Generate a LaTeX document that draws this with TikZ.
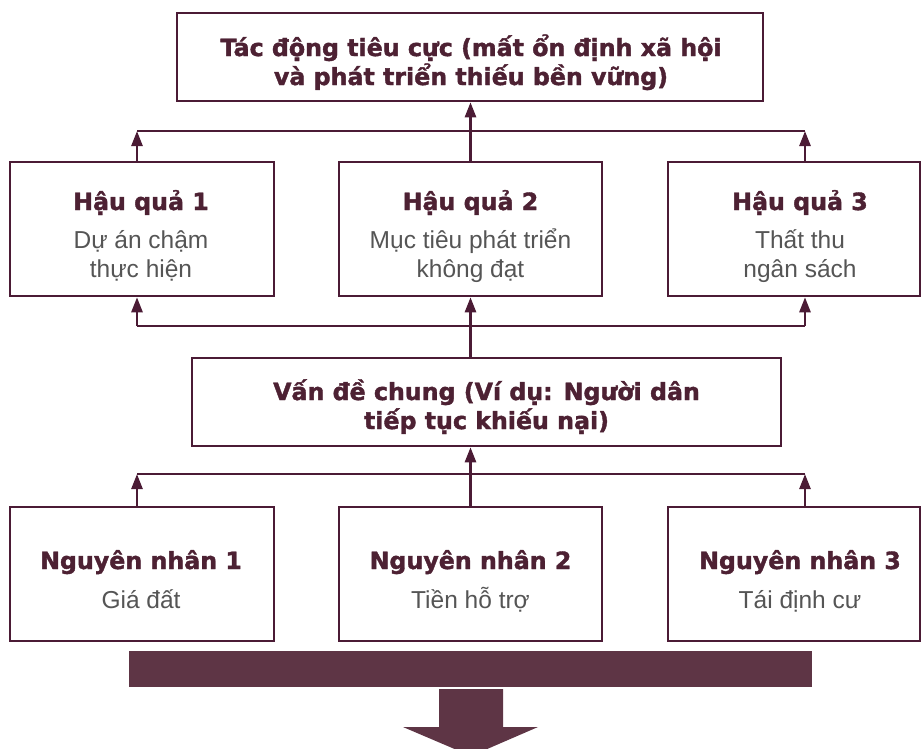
\documentclass[tikz,border=0pt]{standalone}
\usepackage{fontspec}
\setmainfont{Liberation Sans}
\newfontfamily\headfamily{DejaVu Sans}[BoldFeatures={FakeBold=1.6}]
\usetikzlibrary{arrows.meta}
\definecolor{wine}{HTML}{4B1B35}
\definecolor{winefill}{HTML}{5E3545}
\definecolor{headtext}{HTML}{4D2133}
\definecolor{bodytext}{HTML}{555555}
\begin{document}
\begin{tikzpicture}[x=1pt,y=-1pt,
  box/.style={draw=wine, line width=2.6pt, fill=white, inner sep=0pt, rectangle},
  headtxt/.style={font=\headfamily\bfseries\fontsize{23.7}{28}\selectfont, text=headtext, anchor=base, inner sep=0pt},
  bodytxt/.style={font=\fontsize{24.5}{28}\selectfont, text=bodytext, anchor=base, inner sep=0pt},
  conn/.style={draw=wine, line width=2.6pt},
  arr/.style={-{Triangle[width=11pt,length=15pt]}}]
\useasboundingbox (0,0) rectangle (921,748);

% top: overall impact
\node[box, minimum width=586pt, minimum height=88pt] (top) at (470,57) {};
\node[headtxt] (topa) at (471,56) {Tác động tiêu cực (mất ổn định xã hội};
\node[headtxt] (topb) at (471,85) {và phát triển thiếu bền vững)};

% consequences
\node[box, minimum width=264pt, minimum height=134pt] (h1) at (142,229) {};
\node[box, minimum width=263pt, minimum height=134pt] (h2) at (470.5,229) {};
\node[box, minimum width=252pt, minimum height=134pt] (h3) at (794,229) {};
\node[headtxt] (h1t) at (141,210) {Hậu quả 1};
\node[bodytxt] (h1a) at (141,248) {Dự án chậm};
\node[bodytxt] (h1b) at (141,277) {thực hiện};
\node[headtxt] (h2t) at (470.5,210) {Hậu quả 2};
\node[bodytxt] (h2a) at (470.5,248) {Mục tiêu phát triển};
\node[bodytxt] (h2b) at (470.5,277) {không đạt};
\node[headtxt] (h3t) at (800,210) {Hậu quả 3};
\node[bodytxt] (h3a) at (800,248) {Thất thu};
\node[bodytxt] (h3b) at (800,277) {ngân sách};

% common problem
\node[box, minimum width=589pt, minimum height=88pt] (vd) at (486.5,402) {};
\node[headtxt] (vda) at (486.5,400) {Vấn đề chung (Ví dụ: Người dân};
\node[headtxt] (vdb) at (486.5,429) {tiếp tục khiếu nại)};

% causes
\node[box, minimum width=264pt, minimum height=134pt] (n1) at (142,574) {};
\node[box, minimum width=263pt, minimum height=134pt] (n2) at (470.5,574) {};
\node[box, minimum width=252pt, minimum height=134pt] (n3) at (794,574) {};
\node[headtxt] (n1t) at (141,569) {Nguyên nhân 1};
\node[bodytxt] (n1a) at (141,608) {Giá đất};
\node[headtxt] (n2t) at (470.5,569) {Nguyên nhân 2};
\node[bodytxt] (n2a) at (470.5,608) {Tiền hỗ trợ};
\node[headtxt] (n3t) at (800,569) {Nguyên nhân 3};
\node[bodytxt] (n3a) at (800,608) {Tái định cư};

% bus coordinates
\coordinate (tb1) at (137,131);
\coordinate (tb3) at (805,131);
\coordinate (mb1) at (137,326);
\coordinate (mb3) at (805,326);
\coordinate (bb1) at (137,474);
\coordinate (bb3) at (805,474);

% consequences -> impact
\draw[conn] (tb1) -- (tb3);
\draw[conn, arr] (h1.north -| tb1) -- (tb1);
\draw[conn, arr] (h3.north -| tb3) -- (tb3);
\draw[conn, arr] (h2.north) -- (h2.north |- top.south);

% common problem -> consequences
\draw[conn] (mb1) -- (mb3);
\draw[conn, arr] (mb1) -- (mb1 |- h1.south);
\draw[conn, arr] (mb3) -- (mb3 |- h3.south);
\draw[conn, arr] (h2.south |- vd.north) -- (h2.south);

% causes -> common problem
\draw[conn] (bb1) -- (bb3);
\draw[conn, arr] (n1.north -| bb1) -- (bb1);
\draw[conn, arr] (n3.north -| bb3) -- (bb3);
\draw[conn, arr] (n2.north) -- (n2.north |- vd.south);

% base bar and block arrow
\fill[winefill] (129,651) rectangle (812,687);
\fill[winefill] (439,689) -- (503,689) -- (503,727) -- (538,727) -- (471,756)
  -- (403,727) -- (439,727) -- cycle;
\end{tikzpicture}
\end{document}
